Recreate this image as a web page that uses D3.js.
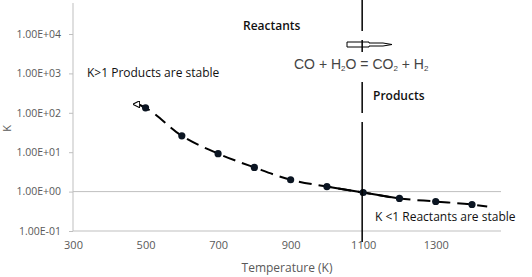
<!DOCTYPE html>
<html>
<head>
<meta charset="utf-8">
<script src="https://cdn.jsdelivr.net/npm/d3@7"></script>
<style>
  body { margin: 0; background: #fff; }
  text { font-family: "Open Sans", "Liberation Sans", sans-serif; }
</style>
</head>
<body>
<svg id="chart" width="532" height="277"></svg>
<script>
// data
var temps = [500, 600, 700, 800, 900, 1000, 1100, 1200, 1300, 1400];
var kValues = [134, 26, 9.2, 4.1, 2.0, 1.34, 0.95, 0.67, 0.56, 0.47];
// where the drawn trend line starts and stops (beyond the markers)
var lineStart = {t: 480, k: 165};
var lineEnd = {t: 1442, k: 0.42};
var xTicks = [300, 500, 700, 900, 1100, 1300];
var yTicks = [0.1, 1, 10, 100, 1000, 10000];
var yTickLabels = ['1.00E-01', '1.00E+00', '1.00E+01', '1.00E+02', '1.00E+03', '1.00E+04'];
var splitT = 1100;

var svg = d3.select('#chart');

var x = d3.scaleLinear().domain([300, 1480]).range([73, 501]);
var y = d3.scaleLog().domain([0.1, 10000]).range([231, 34]);

var grey = '#bfbfbf';
var labelColor = '#595959';

// axes lines
svg.append('line')
  .attr('x1', 73).attr('x2', 73).attr('y1', 3).attr('y2', y(0.1))
  .attr('stroke', grey);
svg.append('line')
  .attr('x1', 73).attr('x2', x(1480)).attr('y1', y(0.1)).attr('y2', y(0.1))
  .attr('stroke', grey);
// gridline at K = 1
svg.append('line')
  .attr('x1', 73).attr('x2', x(1480)).attr('y1', y(1)).attr('y2', y(1))
  .attr('stroke', grey);

// y axis ticks + labels
var yAxis = d3.axisLeft(y)
  .tickValues(yTicks)
  .tickSize(4)
  .tickPadding(8)
  .tickFormat(function(d, i) { return yTickLabels[i]; });
var gy = svg.append('g').attr('transform', 'translate(73,0)').call(yAxis);
gy.select('.domain').remove();
gy.selectAll('line').attr('stroke', grey);
gy.selectAll('text').attr('fill', labelColor).style('font-size', '10.5px')
  .style('font-family', '"Open Sans", sans-serif');

// x axis labels
var xAxis = d3.axisBottom(x).tickValues(xTicks).tickSize(0).tickPadding(10)
  .tickFormat(d3.format('d'));
var gx = svg.append('g').attr('transform', 'translate(0,' + y(0.1) + ')').call(xAxis);
gx.select('.domain').remove();
gx.selectAll('text').attr('fill', labelColor).style('font-size', '11px')
  .style('font-family', '"Open Sans", sans-serif');

// axis titles
svg.append('text')
  .attr('x', x(890)).attr('y', 272)
  .attr('text-anchor', 'middle')
  .attr('fill', labelColor)
  .style('font-size', '12px')
  .text('Temperature (K)');
svg.append('text')
  .attr('transform', 'translate(11,' + y(40) + ') rotate(-90)')
  .attr('text-anchor', 'middle')
  .attr('fill', labelColor)
  .style('font-size', '11px')
  .text('K');

// trend line
var pts = [lineStart].concat(temps.map(function(t, i) { return {t: t, k: kValues[i]}; }), [lineEnd]);
var line = d3.line()
  .x(function(d) { return x(d.t); })
  .y(function(d) { return y(d.k); })
  .curve(d3.curveMonotoneX);

svg.append('defs').append('marker')
  .attr('id', 'openArrow')
  .attr('viewBox', '0 0 10 10')
  .attr('refX', 2).attr('refY', 5)
  .attr('markerWidth', 3.5).attr('markerHeight', 3.5)
  .attr('orient', '180')
  .append('path')
  .attr('d', 'M0,0 L10,5 L0,10 Z')
  .attr('fill', '#fff')
  .attr('stroke', '#000')
  .attr('stroke-width', 1.5);

svg.append('path')
  .datum(pts)
  .attr('d', line)
  .attr('fill', 'none')
  .attr('stroke', '#000')
  .attr('stroke-width', 2)
  .attr('stroke-dasharray', '13,7')
  .attr('marker-start', 'url(#openArrow)');

// solid section around the 1100 K crossing
var solidPts = pts.filter(function(d) { return d.t >= 1000 && d.t <= 1200; });
svg.append('path')
  .datum(solidPts)
  .attr('d', line)
  .attr('fill', 'none')
  .attr('stroke', '#000')
  .attr('stroke-width', 2);

// markers
svg.selectAll('circle.pt')
  .data(temps)
  .enter().append('circle')
  .attr('class', 'pt')
  .attr('cx', function(d) { return x(d); })
  .attr('cy', function(d, i) { return y(kValues[i]); })
  .attr('r', 3.6)
  .attr('fill', '#0b1522');

// vertical divider at 1100 K, broken around the labels
var vx = x(splitT);
var segs = [[0, 31], [82, 113], [122, 242]];
svg.selectAll('line.split')
  .data(segs)
  .enter().append('line')
  .attr('class', 'split')
  .attr('x1', vx - 1).attr('x2', vx - 1)
  .attr('y1', function(d) { return d[0]; })
  .attr('y2', function(d) { return d[1]; })
  .attr('stroke', '#000')
  .attr('stroke-width', 1.5);

// hollow arrow pointing to the right
svg.append('path')
  .attr('d', 'M347,42 L369,42 L369,43 L383,43 L392,44.5 L383,46 L369,46 L369,47 L347,47 Z')
  .attr('fill', '#fff')
  .attr('stroke', '#000')
  .attr('stroke-width', 1);
svg.append('line')
  .attr('x1', vx - 1).attr('x2', vx - 1).attr('y1', 40).attr('y2', 52)
  .attr('stroke', '#000').attr('stroke-width', 1.5);

// annotations
svg.append('text').attr('x', 243).attr('y', 30)
  .style('font-size', '12px').style('font-weight', 600).attr('fill', '#111')
  .text('Reactants');
svg.append('text').attr('x', 87).attr('y', 77)
  .style('font-size', '12px').attr('fill', '#111')
  .text('K>1 Products are stable');
svg.append('text').attr('x', 373).attr('y', 100)
  .style('font-size', '12px').style('font-weight', 600).attr('fill', '#111')
  .text('Products');
svg.append('text').attr('x', 375).attr('y', 221)
  .style('font-size', '12px').attr('fill', '#111')
  .text('K <1 Reactants are stable');

var eq = svg.append('text').attr('x', 294).attr('y', 69)
  .style('font-size', '14px').attr('fill', '#444')
  .style('font-family', '"Liberation Sans", Arial, sans-serif');
eq.append('tspan').text('CO + H');
eq.append('tspan').text('2').style('font-size', '8px').attr('dy', 2);
eq.append('tspan').text('O  = CO').attr('dy', -2);
eq.append('tspan').text('2').style('font-size', '8px').attr('dy', 2);
eq.append('tspan').text(' + H').attr('dy', -2);
eq.append('tspan').text('2').style('font-size', '8px').attr('dy', 2);
</script>
</body>
</html>
